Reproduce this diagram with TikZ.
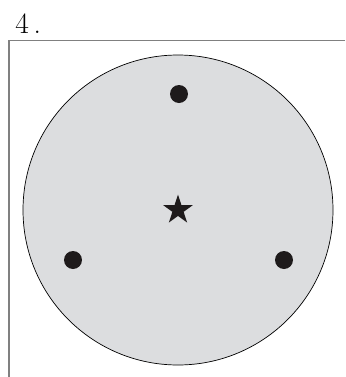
\documentclass[tikz,border=0pt]{standalone}
\usepackage{xcolor}
\usepackage{tikz}
\usetikzlibrary{shapes.geometric,positioning}

\definecolor{diskgray}{RGB}{220,221,223}
\definecolor{framegray}{RGB}{128,128,128}
\definecolor{dotblack}{RGB}{30,26,27}

\begin{document}
\begin{tikzpicture}[
    x=0.025cm, y=-0.025cm,
    disk/.style={circle, draw=black, fill=diskgray, line width=0.5pt, minimum size=310*0.025cm, inner sep=0pt},
    dot/.style={circle, fill=dotblack, minimum size=18*0.025cm, inner sep=0pt},
    centerstar/.style={star, star points=5, star point ratio=2.618, fill=dotblack, minimum size=31*0.025cm, inner sep=0pt},
    frame/.style={draw=framegray, line width=1pt},
    label/.style={anchor=base west, inner sep=0pt, font=\fontsize{21}{24}\selectfont}
]
    \useasboundingbox (0,0) rectangle (345,377);

    \node [label] (num) at (15,33) {4\,.};
    \coordinate (corner) at (9,40.5);
    \coordinate (topend) at (345,40.5);
    \coordinate (bottomend) at (9,377);
    \draw [frame] (topend) -- (corner) -- (bottomend);

    \node [disk] (plate) at (178,210) {};
    \node [centerstar] (centre) at (plate.center) {};
    \node [dot] (dottop) at (179,94) {};
    \node [dot] (dotleft) at (73,260) {};
    \node [dot] (dotright) at (284,260) {};
\end{tikzpicture}
\end{document}
